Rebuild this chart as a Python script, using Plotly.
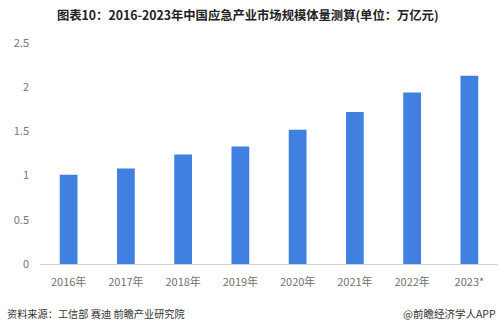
import plotly.graph_objects as go

# Market size of China's emergency industry, 2016-2023 (trillion yuan)
years = ["2016年", "2017年", "2018年", "2019年", "2020年", "2021年", "2022年", "2023*"]
values = [1.01, 1.08, 1.24, 1.33, 1.52, 1.72, 1.94, 2.13]
y_ticks = [0, 0.5, 1, 1.5, 2, 2.5]
y_tick_text = ["0", "0.5", "1", "1.5", "2", "2.5"]

title_text = "图表10：2016-2023年中国应急产业市场规模体量测算(单位：万亿元)"
source_text = "资料来源：工信部 赛迪 前瞻产业研究院"
brand_text = "@前瞻经济学人APP"

FONT = "Noto Sans CJK SC, Noto Sans, sans-serif"

fig = go.Figure(
    go.Bar(
        x=years,
        y=values,
        marker=dict(color="#3f80e0", line=dict(width=0)),
        hoverinfo="x+y",
    )
)

fig.update_layout(
    width=499,
    height=330,
    margin=dict(l=40, r=1, t=43, b=66),
    paper_bgcolor="white",
    plot_bgcolor="white",
    bargap=0.69,
    showlegend=False,
    font=dict(family=FONT, size=11, color="#666666"),
    xaxis=dict(
        showgrid=False,
        showline=True,
        linecolor="#d0d0d0",
        linewidth=1,
        ticks="",
        ticklabelstandoff=8,
        tickfont=dict(size=11, color="#707070"),
        fixedrange=True,
    ),
    yaxis=dict(
        range=[0, 2.5],
        tickvals=y_ticks,
        ticktext=y_tick_text,
        showgrid=False,
        zeroline=False,
        showline=False,
        ticks="",
        ticklabelstandoff=10,
        tickfont=dict(size=11, color="#777777"),
        fixedrange=True,
    ),
    annotations=[
        dict(
            text="<b>" + title_text + "</b>",
            xref="paper", yref="paper", x=0.5, y=1,
            xanchor="center", yanchor="middle",
            xshift=-21, yshift=28,
            showarrow=False,
            font=dict(family=FONT, size=12.3, color="#222222"),
        ),
        dict(
            text=source_text,
            xref="paper", yref="paper", x=0, y=0,
            xanchor="left", yanchor="middle",
            xshift=-35, yshift=-49,
            showarrow=False,
            font=dict(family=FONT, size=10.2, color="#333333"),
        ),
        dict(
            text=brand_text,
            xref="paper", yref="paper", x=1, y=0,
            xanchor="right", yanchor="middle",
            xshift=0, yshift=-49,
            showarrow=False,
            font=dict(family=FONT, size=10.5, color="#333333"),
        ),
    ],
)

fig.write_html("out.html")
